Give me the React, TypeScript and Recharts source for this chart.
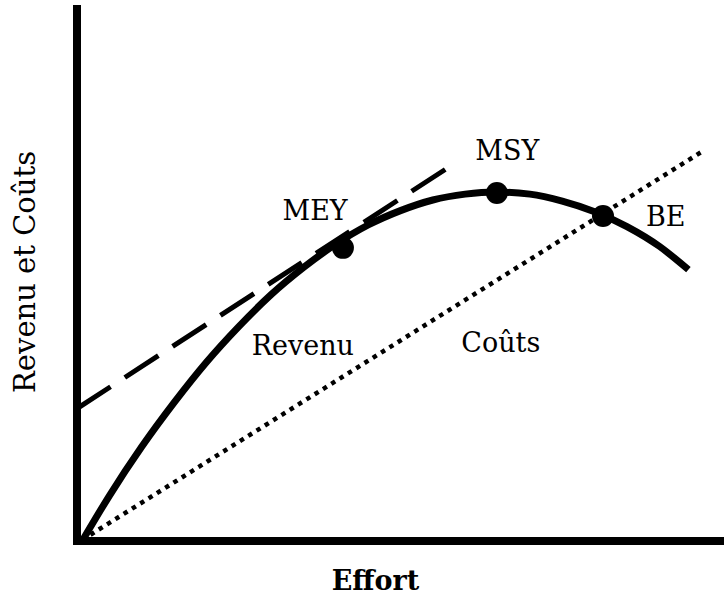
import { ComposedChart, Line, XAxis, YAxis, ReferenceDot } from "recharts";

// effort on the x axis, revenue/cost on the y axis (both 0–100)
const revenue = [
  { e: 0.8, v: 0 },
  { e: 5, v: 8.5 },
  { e: 10, v: 17.7 },
  { e: 15, v: 26 },
  { e: 20, v: 33.6 },
  { e: 25, v: 40.3 },
  { e: 30, v: 46.3 },
  { e: 35, v: 51.4 },
  { e: 40, v: 55.8 },
  { e: 45, v: 59.4 },
  { e: 50, v: 62.1 },
  { e: 55, v: 64.1 },
  { e: 60, v: 65.2 },
  { e: 64.7, v: 65.6 },
  { e: 70, v: 65.2 },
  { e: 75, v: 63.9 },
  { e: 80, v: 61.9 },
  { e: 85, v: 59.1 },
  { e: 90, v: 55.4 },
  { e: 94.5, v: 51 },
];

const costs = [
  { e: 0.8, v: 0.2 },
  { e: 97, v: 73.5 },
];

const tangent = [
  { e: 0, v: 24.9 },
  { e: 57.5, v: 70.3 },
];

const points = [
  { name: "MEY", e: 41.1, v: 55.1 },
  { name: "MSY", e: 64.9, v: 65.4 },
  { name: "BE", e: 81.3, v: 61.1 },
];

const annotations = [
  { text: "MEY", e: 36.8, v: 62.1 },
  { text: "MSY", e: 66.5, v: 73.4 },
  { text: "BE", e: 91, v: 61 },
  { text: "Revenu", e: 34.9, v: 36.8 },
  { text: "Coûts", e: 65.5, v: 37.3 },
];

const FONT = "DejaVu Serif";

export default function App() {
  return (
    <div style={{ position: "absolute", left: 0, top: 0, background: "#fff", fontFamily: FONT }}>
      <ComposedChart
        width={724}
        height={599}
        margin={{ top: 9, right: 0, left: 76, bottom: 57 }}
      >
        <XAxis
          dataKey="e"
          type="number"
          domain={[0, 100]}
          allowDataOverflow
          height={1}
          tick={false}
          tickLine={false}
          axisLine={{ stroke: "#000", strokeWidth: 8, strokeLinecap: "square" }}
          label={{
            value: "Effort",
            position: "bottom",
            offset: 29,
            dx: -25,
            fill: "#000",
            fontSize: 27,
            fontWeight: "bold",
            style: { fontFamily: FONT },
          }}
        />
        <YAxis
          type="number"
          domain={[0, 100]}
          allowDataOverflow
          width={1}
          tick={false}
          tickLine={false}
          axisLine={{ stroke: "#000", strokeWidth: 8, strokeLinecap: "square" }}
          label={{
            value: "Revenu et Coûts",
            position: "center",
            angle: -90,
            dx: -52,
            dy: -3,
            fill: "#000",
            fontSize: 29,
            style: { fontFamily: FONT },
          }}
        />
        <Line
          data={tangent}
          dataKey="v"
          type="linear"
          stroke="#000"
          strokeWidth={5}
          strokeDasharray="40 17"
          dot={false}
          activeDot={false}
          isAnimationActive={false}
        />
        <Line
          data={costs}
          dataKey="v"
          type="linear"
          stroke="#000"
          strokeWidth={4.5}
          strokeDasharray="4.5 5.3"
          dot={false}
          activeDot={false}
          isAnimationActive={false}
        />
        <Line
          data={revenue}
          dataKey="v"
          type="monotone"
          stroke="#000"
          strokeWidth={7}
          dot={false}
          activeDot={false}
          isAnimationActive={false}
        />
        {points.map((p) => (
          <ReferenceDot key={p.name} x={p.e} y={p.v} r={11} fill="#000" stroke="none" />
        ))}
        {annotations.map((a) => (
          <ReferenceDot
            key={a.text}
            x={a.e}
            y={a.v}
            r={0}
            fill="none"
            stroke="none"
            label={{
              value: a.text,
              position: "center",
              fill: "#000",
              fontSize: 27,
              style: { fontFamily: FONT },
            }}
          />
        ))}
      </ComposedChart>
    </div>
  );
}
